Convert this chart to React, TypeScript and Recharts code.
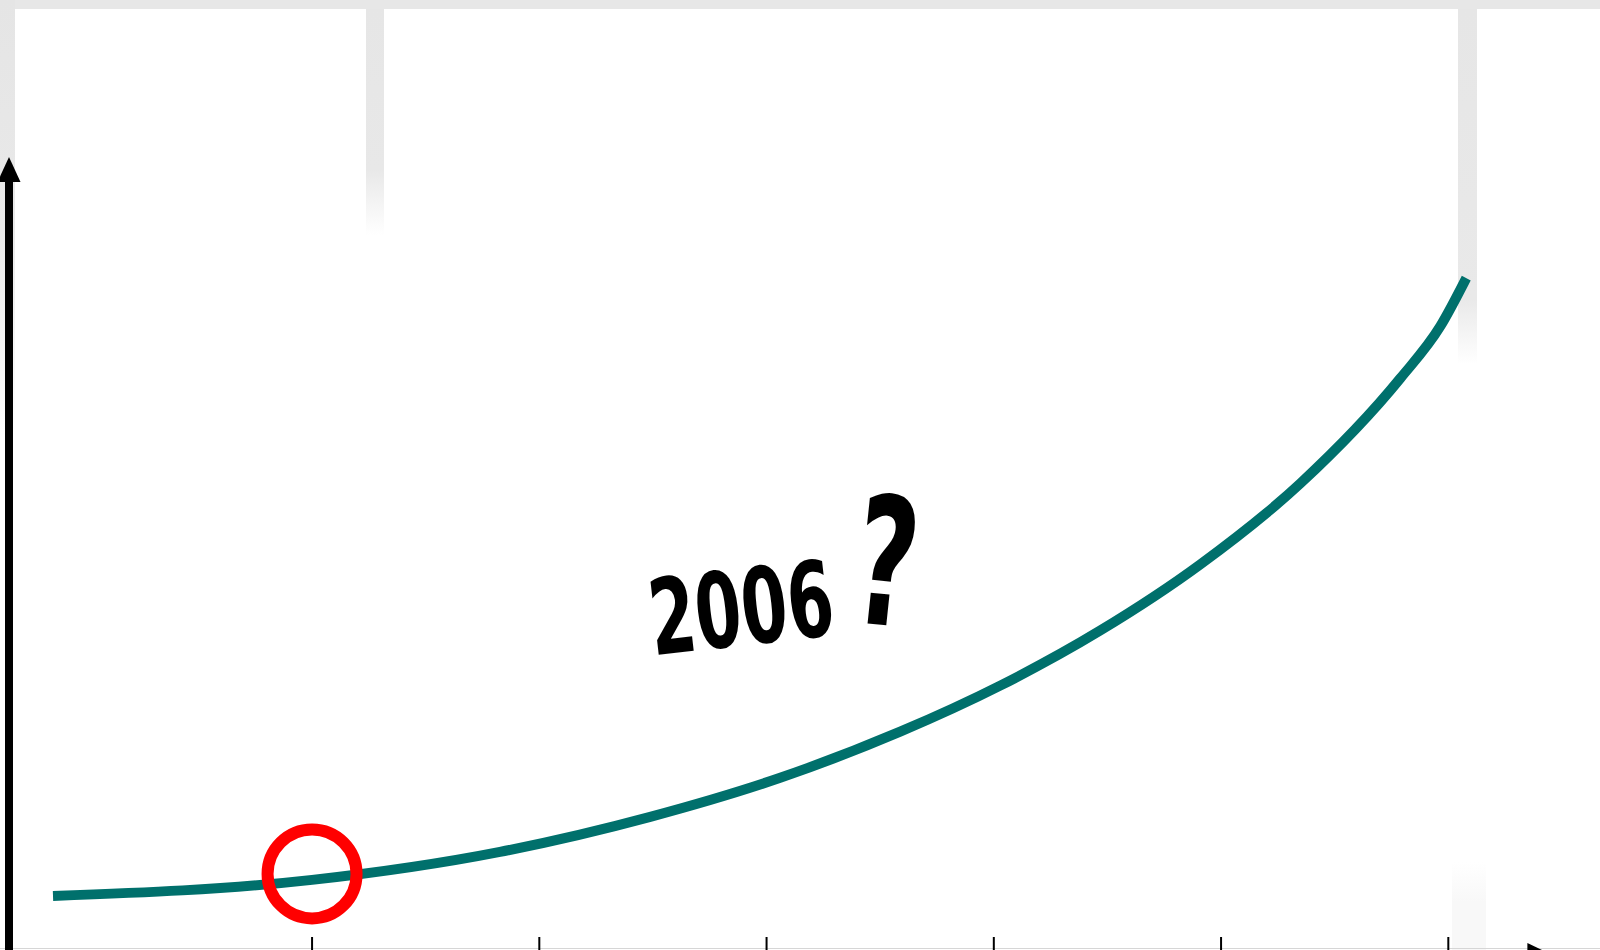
import React from 'react';
import { LineChart, Line, XAxis, YAxis, ReferenceDot } from 'recharts';

// x in "tick units" (ticks at 1..6), value in chart units above the x axis
const curveT = [-0.14, 1.0, 1.827, 2.488, 3.06, 3.588, 4.028, 4.468, 4.908, 5.349, 5.789, 5.965, 6.079];
const curveV = [59, 75, 103, 138, 177, 223, 269, 324, 390, 471, 576, 628, 676];
const xTicks = [1, 2, 3, 4, 5, 6];
const xDomain = [-0.3336, 6.348];
const yDomain = [0, 784];
const markedT = 1;
const markedV = 81;
const noteYear = '2006';
const noteMark = '?';

const data = curveT.map((t, i) => ({ t, v: curveV[i] }));

const EmptyTick = () => <g />;

const UpArrow = (p: any) => {
  const { cx, cy } = p;
  return <polygon points={`${cx},${cy - 13} ${cx - 11.5},${cy + 12} ${cx + 11.5},${cy + 12}`} fill="#000" />;
};
const RightArrow = (p: any) => {
  const { cx, cy } = p;
  return <polygon points={`${cx},${cy - 12} ${cx + 25},${cy} ${cx},${cy + 12}`} fill="#000" />;
};
const Ring = (p: any) => {
  const { cx, cy } = p;
  return <circle cx={cx} cy={cy} r={44.5} fill="none" stroke="#ff0000" strokeWidth={12} />;
};

export default function App() {
  return (
    <div style={{ position: 'absolute', left: 0, top: 0, width: 1600, height: 950, overflow: 'hidden', background: '#fff' }}>
      {/* board background */}
      <div style={{ position: 'absolute', left: 0, top: 0, width: 1600, height: 9, background: '#e7e7e7' }} />
      <div style={{ position: 'absolute', left: 0, top: 0, width: 15, height: 440, background: 'linear-gradient(to bottom, #e5e5e5 0px, #e9e9e9 230px, #ffffff 440px)' }} />
      <div style={{ position: 'absolute', left: 366, top: 9, width: 18, height: 226, background: 'linear-gradient(to bottom, #e6e6e6 0px, #e8e8e8 160px, #ffffff 226px)' }} />
      <div style={{ position: 'absolute', left: 1458, top: 9, width: 19, height: 355, background: 'linear-gradient(to bottom, #e6e6e6 0px, #e9e9e9 290px, #ffffff 355px)' }} />
      <div style={{ position: 'absolute', left: 1452, top: 862, width: 34, height: 88, background: 'linear-gradient(to bottom, #ffffff 0px, #f8f8f8 40px, #f8f8f8 88px)' }} />
      <div style={{ position: 'absolute', left: 0, top: 948, width: 1600, height: 1, background: '#d6d6d6' }} />

      <div style={{ position: 'absolute', left: 0, top: 0 }}>
        <LineChart width={1600} height={960} data={data} margin={{ top: 170, right: 72.6, bottom: 5, left: 8 }}>
          <XAxis
            type="number"
            dataKey="t"
            domain={xDomain}
            ticks={xTicks}
            height={1}
            mirror
            tickSize={18}
            tick={<EmptyTick />}
            tickLine={{ stroke: '#000', strokeWidth: 2 }}
            axisLine={{ stroke: '#000', strokeWidth: 8 }}
            allowDataOverflow
          />
          <YAxis
            type="number"
            domain={yDomain}
            width={1}
            ticks={[]}
            tick={<EmptyTick />}
            tickLine={false}
            axisLine={{ stroke: '#000', strokeWidth: 8 }}
            allowDataOverflow
          />
          <Line
            type="monotone"
            dataKey="v"
            stroke="#00706c"
            strokeWidth={10}
            dot={false}
            activeDot={false}
            isAnimationActive={false}
          />
          <ReferenceDot x={markedT} y={markedV} r={44} shape={(p: any) => <Ring {...p} />} />
          <ReferenceDot x={xDomain[0]} y={yDomain[1]} r={1} shape={(p: any) => <UpArrow {...p} />} />
          <ReferenceDot x={xDomain[1]} y={yDomain[0]} r={1} shape={(p: any) => <RightArrow {...p} />} />
        </LineChart>
      </div>

      <svg width={1600} height={950} style={{ position: 'absolute', left: 0, top: 0, pointerEvents: 'none' }}>
        <text
          x={741}
          y={645}
          textAnchor="middle"
          fontFamily="DejaVu Sans"
          fontWeight={700}
          fontSize={105}
          textLength={185}
          lengthAdjust="spacingAndGlyphs"
          fill="#000"
          transform="rotate(-6.5 741 607)"
        >
          {noteYear}
        </text>
        <text
          x={887}
          y={625}
          textAnchor="middle"
          fontFamily="DejaVu Sans"
          fontWeight={700}
          fontSize={178}
          textLength={62}
          lengthAdjust="spacingAndGlyphs"
          fill="#000"
          transform="rotate(6 887 560)"
        >
          {noteMark}
        </text>
      </svg>
    </div>
  );
}
